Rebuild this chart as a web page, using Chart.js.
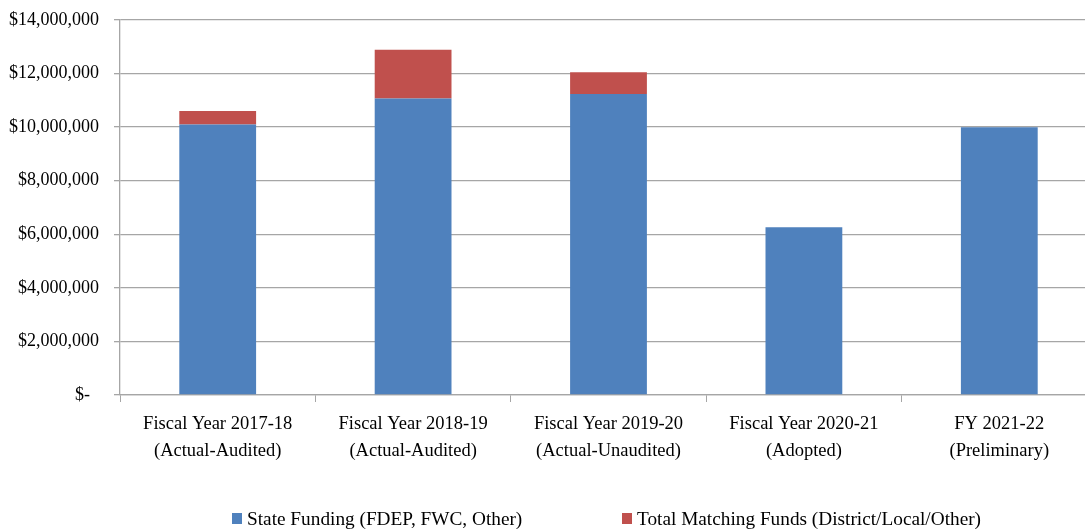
<!DOCTYPE html>
<html>
<head>
<meta charset="utf-8">
<script src="https://cdn.jsdelivr.net/npm/chart.js@4/dist/chart.umd.min.js"></script>
<style>
  html, body { margin: 0; padding: 0; background: #fff; overflow: hidden; }
  #wrap { width: 1085px; height: 531px; overflow: hidden; position: relative; }
  canvas { display: block; }
</style>
</head>
<body>
<div id="wrap"><canvas id="c" width="1100" height="531"></canvas></div>
<script>
const categories = [
  ["Fiscal Year 2017-18", "(Actual-Audited)"],
  ["Fiscal Year 2018-19", "(Actual-Audited)"],
  ["Fiscal Year 2019-20", "(Actual-Unaudited)"],
  ["Fiscal Year 2020-21", "(Adopted)"],
  ["FY 2021-22", "(Preliminary)"]
];
const stateFunding = [10100000, 11070000, 11240000, 6260000, 10000000];
const matchingFunds = [500000, 1820000, 810000, 0, 0];
const seriesNames = ["State Funding (FDEP, FWC, Other)", "Total Matching Funds (District/Local/Other)"];
const seriesColors = ["#4F81BD", "#C0504D"];
const yMin = 0, yMax = 14000000, yStep = 2000000;

const FONT = "'Liberation Serif', 'Times New Roman', serif";
const gridColor = "#a6a6a6";

const legendPlugin = {
  id: 'customLegend',
  afterDraw(chart) {
    const ctx = chart.ctx;
    ctx.save();
    ctx.font = "19.3px " + FONT;
    ctx.textBaseline = 'middle';
    ctx.textAlign = 'left';
    const boxW = 10, boxH = 11, gap = 5, cy = 518.5;
    const starts = [232, 622];
    chart.data.datasets.forEach((d, i) => {
      const x = starts[i];
      ctx.fillStyle = d.backgroundColor;
      ctx.fillRect(x, cy - boxH / 2, boxW, boxH);
      ctx.fillStyle = '#000';
      ctx.fillText(d.label, x + boxW + gap, cy + 1);
    });
    ctx.restore();
  }
};

new Chart(document.getElementById('c'), {
  type: 'bar',
  data: {
    labels: categories,
    datasets: [
      { label: seriesNames[0], data: stateFunding, backgroundColor: seriesColors[0], borderWidth: 0 },
      { label: seriesNames[1], data: matchingFunds, backgroundColor: seriesColors[1], borderWidth: 0 }
    ]
  },
  options: {
    responsive: false,
    animation: false,
    devicePixelRatio: 1,
    layout: { padding: { top: 20, right: 3, bottom: 66, left: 0 } },
    plugins: { legend: { display: false }, tooltip: { enabled: false } },
    datasets: { bar: { barPercentage: 0.393, categoryPercentage: 1 } },
    scales: {
      x: {
        stacked: true,
        offset: true,
        grid: { display: true, drawOnChartArea: false, drawTicks: true, tickLength: 7, color: gridColor, lineWidth: 1, offset: true },
        border: { display: true, color: gridColor, width: 1.3 },
        ticks: { color: '#000', font: { family: FONT, size: 18.5, lineHeight: 1.45 }, padding: 9, maxRotation: 0, autoSkip: false },
        afterFit(scale) { scale.height = 70; scale.paddingLeft = 0; scale.paddingRight = 0; }
      },
      y: {
        stacked: true,
        min: yMin, max: yMax,
        grid: { color: gridColor, lineWidth: 1.3, tickLength: 6, drawTicks: true },
        border: { display: true, color: gridColor, width: 1.3 },
        ticks: {
          stepSize: yStep,
          color: '#000',
          padding: 15,
          font: { family: FONT, size: 18 },
          callback: v => v === 0 ? '$-\u2002' : '$' + v.toLocaleString('en-US')
        },
        afterFit(scale) { scale.width = 120; scale.paddingTop = 0; scale.paddingBottom = 0; }
      }
    }
  },
  plugins: [legendPlugin]
});
</script>
</body>
</html>
